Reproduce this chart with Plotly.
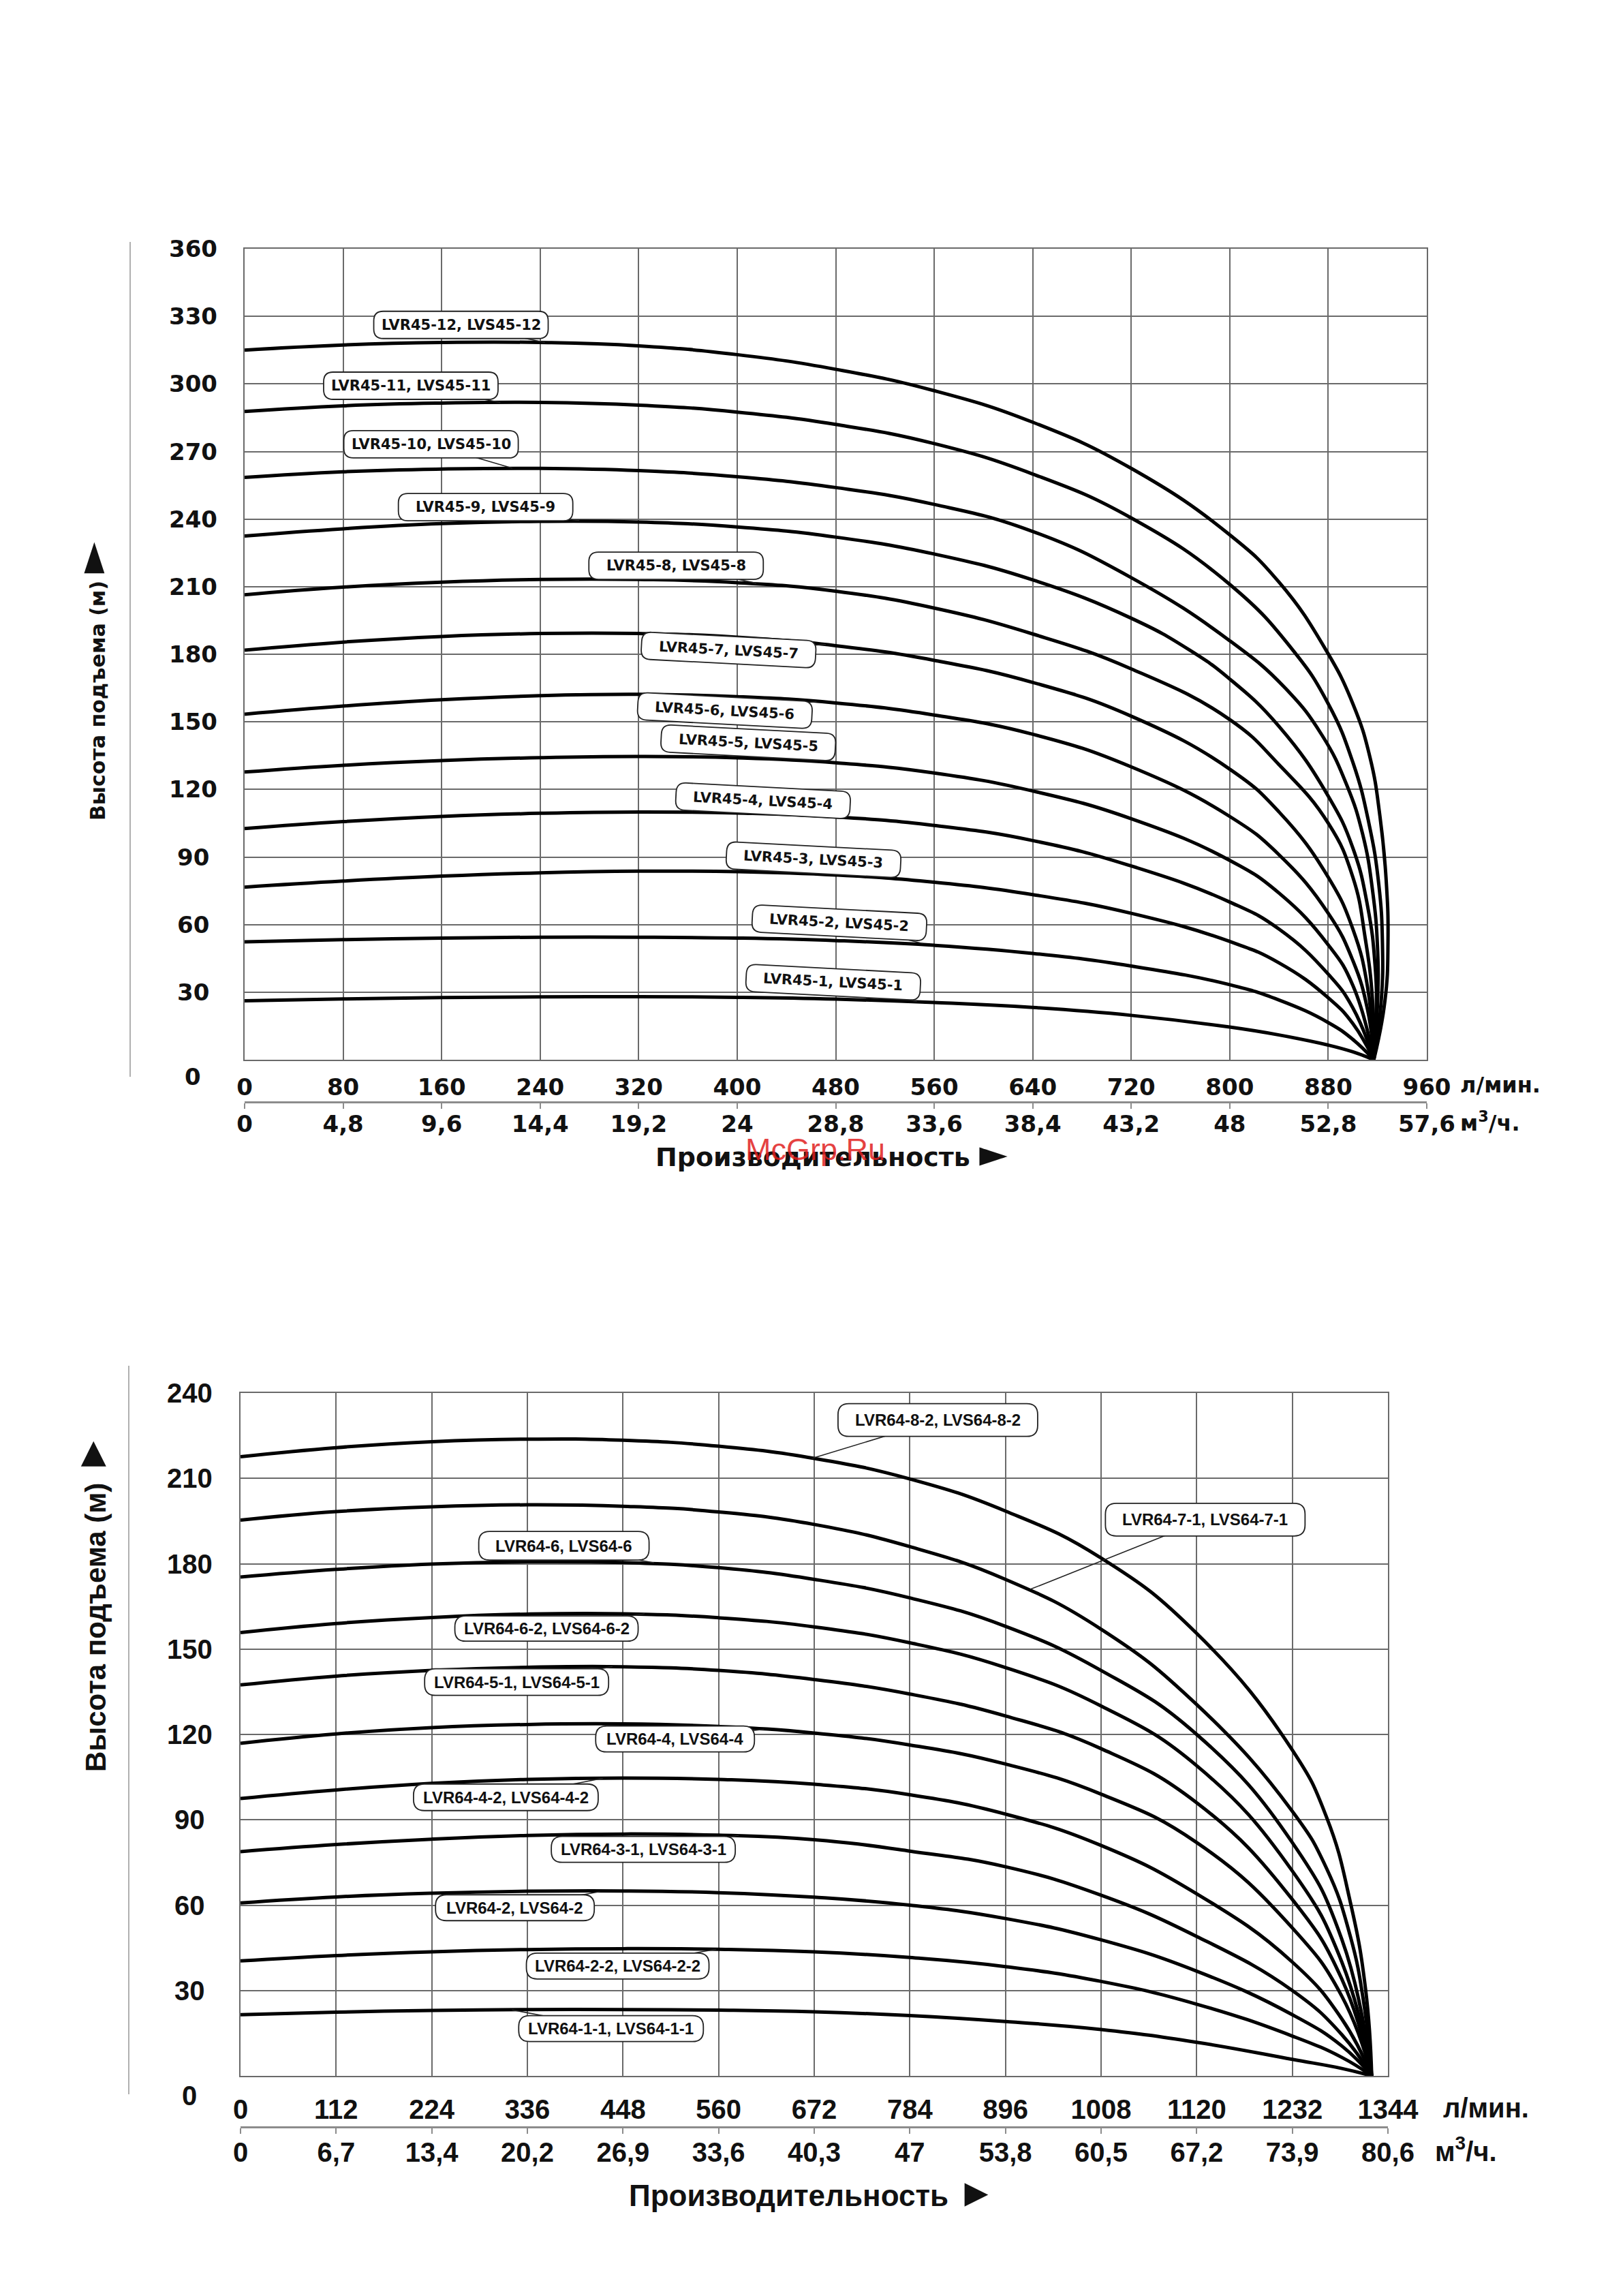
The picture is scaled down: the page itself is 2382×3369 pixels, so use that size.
import math
import plotly.graph_objects as go

# ---------------- page geometry (browser body margin = 8px) ----------------
W, H = 2366, 3353
OFF = 8


def fx(p):
    return (p - OFF) / W


def fy(p):
    return 1 - (p - OFF) / H


# ---------------- data: top chart (LVR45 / LVS45) ----------------
TOP_Q_TICKS = [0, 80, 160, 240, 320, 400, 480, 560, 640, 720, 800, 880, 960]
TOP_M3H_LABELS = ["0", "4,8", "9,6", "14,4", "19,2", "24", "28,8", "33,6", "38,4", "43,2", "48", "52,8", "57,6"]
TOP_H_TICKS = [0, 30, 60, 90, 120, 150, 180, 210, 240, 270, 300, 330, 360]

q45_1 = [0, 80, 160, 240, 320, 400, 480, 560, 640, 720, 800, 840, 880, 900, 917]
h45_1 = [26.2, 27.0, 27.6, 27.9, 28.0, 27.7, 26.9, 25.4, 23.2, 19.7, 14.5, 11.0, 6.5, 3.5, 0]
q45_2 = [0, 80, 160, 240, 320, 400, 480, 560, 640, 720, 800, 840, 880, 900, 917]
h45_2 = [52.3, 53.3, 54.0, 54.4, 54.4, 54.0, 52.9, 50.8, 47.2, 41.6, 33.3, 26.5, 16.5, 9.0, 0]
q45_3 = [0, 80, 160, 240, 320, 400, 480, 560, 640, 720, 800, 840, 880, 900, 917]
h45_3 = [76.6, 79.3, 81.5, 83.0, 83.7, 83.5, 82.0, 78.8, 73.3, 65.0, 52.5, 43.0, 27.5, 16.0, 0]
q45_4 = [0, 80, 160, 240, 320, 400, 480, 560, 640, 720, 800, 840, 880, 900, 917]
h45_4 = [102.6, 105.7, 108.0, 109.4, 110.0, 109.5, 107.8, 104.0, 97.3, 86.0, 70.0, 58.0, 38.0, 23.0, 0]
q45_5 = [0, 80, 160, 240, 320, 400, 480, 560, 640, 720, 800, 840, 880, 900, 917]
h45_5 = [127.7, 130.7, 132.8, 134.1, 134.6, 134.0, 131.8, 127.3, 119.3, 107.0, 88.5, 74.0, 51.0, 33.0, 0]
q45_6 = [0, 80, 160, 240, 320, 400, 480, 560, 640, 720, 800, 840, 880, 900, 912, 917]
h45_6 = [153.4, 157.0, 159.8, 161.6, 162.2, 161.2, 158.4, 153.0, 144.5, 130.0, 108.0, 91.0, 65.0, 44.0, 22.0, 0]
q45_7 = [0, 80, 160, 240, 320, 400, 480, 560, 640, 720, 800, 840, 880, 900, 912, 917]
h45_7 = [181.8, 185.4, 187.9, 189.2, 189.2, 187.6, 183.8, 177.3, 167.5, 152.5, 129.0, 110.0, 81.0, 58.0, 32.0, 0]
q45_8 = [0, 80, 160, 240, 320, 400, 480, 560, 640, 720, 800, 840, 880, 900, 910, 916, 917]
h45_8 = [206.4, 209.8, 212.0, 213.2, 213.2, 211.8, 208.0, 200.5, 189.0, 173.5, 151.0, 131.0, 105.0, 81.0, 54.0, 26.0, 0]
q45_9 = [0, 80, 160, 240, 320, 400, 480, 560, 640, 720, 767, 800, 840, 880, 900, 912, 918, 919, 917]
h45_9 = [232.5, 235.7, 238.0, 239.0, 238.7, 236.5, 232.0, 224.5, 213.0, 196.0, 182.0, 169.0, 148.0, 117.0, 94.0, 68.0, 42.0, 20.0, 0]
q45_10 = [0, 80, 160, 240, 320, 400, 480, 560, 640, 720, 800, 845, 875, 895, 908, 916, 920, 920, 917]
h45_10 = [258.5, 261.0, 262.2, 262.5, 261.5, 258.8, 254.0, 246.5, 234.5, 214.0, 186.0, 165.0, 144.0, 122.0, 100.0, 75.0, 50.0, 25.0, 0]
q45_11 = [0, 80, 160, 240, 320, 400, 480, 560, 640, 720, 800, 851, 880, 900, 913, 921, 924, 923, 917]
h45_11 = [287.8, 290.3, 291.5, 291.8, 290.6, 287.5, 282.0, 273.5, 260.0, 240.5, 211.0, 182.0, 158.0, 132.0, 105.0, 78.0, 52.0, 26.0, 0]
q45_12 = [0, 80, 160, 240, 320, 400, 480, 560, 640, 720, 800, 840, 878, 900, 914, 922, 927, 928.5, 926, 917]
h45_12 = [315.0, 317.3, 318.4, 318.4, 316.9, 313.0, 306.5, 297.0, 283.0, 262.5, 233.0, 212.0, 182.0, 158.0, 134.0, 108.0, 80.0, 52.0, 26.0, 0]

TOP_CURVES = [
    (q45_1, h45_1), (q45_2, h45_2), (q45_3, h45_3), (q45_4, h45_4),
    (q45_5, h45_5), (q45_6, h45_6), (q45_7, h45_7), (q45_8, h45_8),
    (q45_9, h45_9), (q45_10, h45_10), (q45_11, h45_11), (q45_12, h45_12),
]
TOP_NAMES = ["LVR45-%d, LVS45-%d" % (i, i) for i in range(1, 13)]

# ---------------- data: bottom chart (LVR64 / LVS64) ----------------
BOT_Q_TICKS = [0, 112, 224, 336, 448, 560, 672, 784, 896, 1008, 1120, 1232, 1344]
BOT_M3H_LABELS = ["0", "6,7", "13,4", "20,2", "26,9", "33,6", "40,3", "47", "53,8", "60,5", "67,2", "73,9", "80,6"]
BOT_H_TICKS = [0, 30, 60, 90, 120, 150, 180, 210, 240]

q64_1_1 = [0, 112, 224, 336, 448, 560, 672, 784, 896, 1008, 1120, 1232, 1290, 1325]
h64_1_1 = [21.5, 22.4, 23.0, 23.3, 23.3, 23.1, 22.5, 21.2, 19.1, 16.3, 11.8, 5.8, 2.6, 0]
q64_2_2 = [0, 112, 224, 336, 448, 560, 672, 784, 896, 1008, 1120, 1232, 1290, 1325]
h64_2_2 = [40.4, 42.3, 43.6, 44.4, 44.7, 44.5, 43.6, 41.6, 38.4, 33.2, 25.2, 14.0, 6.5, 0]
q64_2 = [0, 112, 224, 336, 448, 560, 672, 784, 896, 1008, 1120, 1232, 1290, 1325]
h64_2 = [60.8, 62.9, 64.2, 64.9, 65.0, 64.4, 62.8, 60.0, 55.3, 47.8, 36.8, 21.5, 10.5, 0]
q64_3_1 = [0, 112, 224, 336, 448, 560, 672, 784, 896, 1008, 1120, 1232, 1290, 1325]
h64_3_1 = [78.8, 81.3, 83.2, 84.5, 85.0, 84.6, 83.0, 79.0, 73.5, 63.5, 49.0, 30.0, 14.5, 0]
q64_4_2 = [0, 112, 224, 336, 448, 560, 672, 784, 896, 1008, 1120, 1232, 1290, 1325]
h64_4_2 = [97.5, 100.5, 102.8, 104.2, 104.7, 104.2, 102.5, 98.8, 92.0, 81.0, 64.0, 40.0, 20.0, 0]
q64_4 = [0, 112, 224, 336, 448, 560, 672, 784, 896, 1008, 1120, 1232, 1290, 1325]
h64_4 = [116.9, 120.2, 122.4, 123.5, 123.7, 122.8, 120.5, 116.3, 109.6, 99.0, 82.0, 52.0, 28.0, 0]
q64_5_1 = [0, 112, 224, 336, 448, 560, 672, 784, 896, 1008, 1120, 1232, 1290, 1325]
h64_5_1 = [137.4, 140.5, 142.5, 143.6, 143.8, 142.5, 139.3, 134.2, 126.5, 115.0, 96.0, 62.0, 34.0, 0]
q64_6_2 = [0, 112, 224, 336, 448, 560, 672, 784, 896, 1008, 1120, 1232, 1290, 1325]
h64_6_2 = [155.8, 159.0, 161.1, 162.3, 162.4, 161.0, 157.8, 152.2, 143.5, 130.0, 109.0, 72.0, 40.0, 0]
q64_6 = [0, 112, 224, 336, 448, 560, 672, 784, 896, 1008, 1120, 1232, 1290, 1325]
h64_6 = [175.3, 178.0, 179.9, 180.7, 180.4, 178.6, 174.5, 168.0, 158.0, 142.5, 120.0, 82.0, 48.0, 0]
q64_7_1 = [0, 112, 224, 336, 448, 560, 672, 784, 896, 1008, 1120, 1232, 1272, 1300, 1316, 1325]
h64_7_1 = [195.3, 198.3, 200.0, 200.7, 200.2, 198.2, 193.8, 186.0, 174.5, 157.0, 130.5, 93.0, 73.0, 49.0, 25.0, 0]
q64_8_2 = [0, 112, 224, 336, 448, 560, 672, 784, 896, 1008, 1120, 1232, 1272, 1300, 1318, 1325]
h64_8_2 = [217.6, 220.8, 222.9, 223.8, 223.4, 221.3, 217.0, 209.8, 198.5, 182.0, 155.5, 114.5, 91.0, 61.0, 30.0, 0]

BOT_CURVES = [
    (q64_1_1, h64_1_1), (q64_2_2, h64_2_2), (q64_2, h64_2), (q64_3_1, h64_3_1),
    (q64_4_2, h64_4_2), (q64_4, h64_4), (q64_5_1, h64_5_1), (q64_6_2, h64_6_2),
    (q64_6, h64_6), (q64_7_1, h64_7_1), (q64_8_2, h64_8_2),
]
BOT_NAMES = ["LVR64-1-1, LVS64-1-1", "LVR64-2-2, LVS64-2-2", "LVR64-2, LVS64-2",
             "LVR64-3-1, LVS64-3-1", "LVR64-4-2, LVS64-4-2", "LVR64-4, LVS64-4",
             "LVR64-5-1, LVS64-5-1", "LVR64-6-2, LVS64-6-2", "LVR64-6, LVS64-6",
             "LVR64-7-1, LVS64-7-1", "LVR64-8-2, LVS64-8-2"]

# ---------------- label placement: box centre, leader end, tilt, frame size (px) ----------------
TOP_LABEL_POS = [
    (478, 34.4, 546, 25.8, 3), (483, 60.8, 550.7, 51.6, 3), (462, 88.8, 528.5, 81.0, 3),
    (421, 115.0, 490, 108.0, 3), (409, 140.7, 472, 132.8, 3), (390, 155.0, 464.5, 159.0, 3),
    (393, 181.9, 472, 184.3, 3), (350.4, 219.3, 415.5, 211.5, 0), (195.7, 245.3, 271.8, 239.3, 0),
    (151.4, 273.2, 217.4, 262.6, 0), (135.0, 299.2, 207.7, 291.8, 0), (175.7, 326.2, 243.9, 318.4, 0),
]
TOP_BOX = (256, 40)
BOT_LABEL_POS = [
    (434, 16.6, 318, 23.2), (441.8, 38.6, 557.2, 44.5), (321.4, 59.1, 421.1, 64.8),
    (471.8, 79.6, 583.5, 84.5), (310.8, 97.9, 424.5, 104.6), (509, 118.4, 613.2, 121.8),
    (323.4, 138.4, 435.7, 143.8), (358.4, 157.2, 473.2, 162.4), (378.8, 186.3, 484.4, 180.3),
    (1130, 195.5, 925, 171.0), (816.8, 230.5, 669.2, 217.0),
]
BOT_BOX = [(271, 38), (268, 38), (233, 38), (270, 38), (271, 39), (233, 38),
           (270, 39), (269, 37), (250, 42), (293, 48), (293, 48)]

TOPF = "DejaVu Sans"
BOTF = "Liberation Sans, Arial, sans-serif"
GRID = "#6a6a6a"


def rounded_path(w, h, r, ang):
    a = math.radians(ang)
    ca, sa = math.cos(a), math.sin(a)

    def p(x, y):
        return "%.2f,%.2f" % (x * ca + y * sa, -x * sa + y * ca)

    hw, hh = w / 2.0, h / 2.0
    return ("M" + p(-hw + r, hh) + " L" + p(hw - r, hh) + " Q" + p(hw, hh) + " " + p(hw, hh - r) +
            " L" + p(hw, -hh + r) + " Q" + p(hw, -hh) + " " + p(hw - r, -hh) +
            " L" + p(-hw + r, -hh) + " Q" + p(-hw, -hh) + " " + p(-hw, -hh + r) +
            " L" + p(-hw, hh - r) + " Q" + p(-hw, hh) + " " + p(-hw + r, hh) + " Z")


fig = go.Figure()

for q, h in TOP_CURVES:
    fig.add_trace(go.Scatter(x=q, y=h, mode="lines", xaxis="x", yaxis="y",
                             line=dict(color="black", width=5, shape="spline", smoothing=1.3),
                             showlegend=False, hoverinfo="skip"))
for q, h in BOT_CURVES:
    fig.add_trace(go.Scatter(x=q, y=h, mode="lines", xaxis="x3", yaxis="y3",
                             line=dict(color="black", width=5, shape="spline", smoothing=1.3),
                             showlegend=False, hoverinfo="skip"))
# carriers for the secondary (m3/h) axes
fig.add_trace(go.Scatter(x=[0, 960], y=[None, None], xaxis="x2", yaxis="y", showlegend=False, hoverinfo="skip"))
fig.add_trace(go.Scatter(x=[0, 1344], y=[None, None], xaxis="x4", yaxis="y3", showlegend=False, hoverinfo="skip"))

TOP_L, TOP_R, TOP_T, TOP_B = 359, 2094, 365, 1555
BOT_L, BOT_R, BOT_T, BOT_B = 353, 2037, 2044, 3046

axis_common = dict(showgrid=True, gridcolor=GRID, gridwidth=1.6, showline=True, mirror=True,
                   linecolor=GRID, linewidth=1.6, zeroline=False, ticks="", automargin=False)

fig.update_layout(
    width=W, height=H, margin=dict(l=0, r=0, t=0, b=0, autoexpand=False),
    paper_bgcolor="white", plot_bgcolor="white", showlegend=False,
    xaxis=dict(domain=[fx(TOP_L), fx(TOP_R)], range=[0, 960], anchor="y",
               tickvals=TOP_Q_TICKS, ticktext=[str(v) for v in TOP_Q_TICKS],
               tickfont=dict(family=TOPF, size=34, color="#111", weight="bold"),
               ticklabelstandoff=9, **axis_common),
    yaxis=dict(domain=[fy(TOP_B), fy(TOP_T)], range=[0, 360], anchor="x",
               tickvals=TOP_H_TICKS, showticklabels=False, **axis_common),
    xaxis2=dict(domain=[fx(TOP_L), fx(TOP_R)], range=[0, 960], overlaying="x", anchor="free",
                position=fy(1617), side="bottom", showgrid=False, zeroline=False, automargin=False,
                showline=True, linecolor="#8c8c8c", linewidth=2.5,
                ticks="outside", ticklen=8, tickcolor="#8c8c8c", tickwidth=2,
                tickvals=TOP_Q_TICKS, ticktext=TOP_M3H_LABELS,
                tickfont=dict(family=TOPF, size=34, color="#111", weight="bold"),
                ticklabelstandoff=-7),
    xaxis3=dict(domain=[fx(BOT_L), fx(BOT_R)], range=[0, 1344], anchor="y3",
                tickvals=BOT_Q_TICKS, ticktext=[str(v) for v in BOT_Q_TICKS],
                tickfont=dict(family=BOTF, size=40, color="#111", weight="bold"),
                ticklabelstandoff=13, **axis_common),
    yaxis3=dict(domain=[fy(BOT_B), fy(BOT_T)], range=[0, 240], anchor="x3",
                tickvals=BOT_H_TICKS, showticklabels=False, **axis_common),
    xaxis4=dict(domain=[fx(BOT_L), fx(BOT_R)], range=[0, 1344], overlaying="x3", anchor="free",
                position=fy(3121), side="bottom", showgrid=False, zeroline=False, automargin=False,
                showline=True, linecolor="#8c8c8c", linewidth=2.5,
                ticks="outside", ticklen=8, tickcolor="#8c8c8c", tickwidth=2,
                tickvals=BOT_Q_TICKS, ticktext=BOT_M3H_LABELS,
                tickfont=dict(family=BOTF, size=40, color="#111", weight="bold"),
                ticklabelstandoff=-7),
)

ann = []
leaders = []
frames = []
# y tick labels (centred, as in the original)
for v in TOP_H_TICKS:
    ann.append(dict(x=fx(283), xref="paper", y=v, yref="y", text=str(v), showarrow=False,
                    xanchor="center", yanchor="middle", yshift=-25 if v == 0 else 0,
                    font=dict(family=TOPF, size=34, color="#111", weight="bold")))
for v in BOT_H_TICKS:
    ann.append(dict(x=fx(278), xref="paper", y=v, yref="y3", text=str(v), showarrow=False,
                    xanchor="center", yanchor="middle", yshift=-29 if v == 0 else 0,
                    font=dict(family=BOTF, size=40, color="#111", weight="bold")))

# curve labels: leader line (under the frame), rounded frame, text
for name, (bx, by, lx, ly, ang) in zip(TOP_NAMES, TOP_LABEL_POS):
    leaders.append(dict(type="line", xref="x", yref="y", x0=bx, y0=by, x1=lx, y1=ly,
                        line=dict(color="#222", width=1.6), layer="above"))
    frames.append(dict(type="path", xref="x", yref="y", xsizemode="pixel", ysizemode="pixel",
                       xanchor=bx, yanchor=by, path=rounded_path(TOP_BOX[0], TOP_BOX[1], 14, ang),
                       fillcolor="white", line=dict(color="#222", width=1.8), layer="above"))
    ann.append(dict(x=bx, y=by, xref="x", yref="y", text=name, showarrow=False,
                    xanchor="center", yanchor="middle", textangle=ang,
                    font=dict(family=TOPF, size=21, color="#111", weight="bold")))
for name, (bx, by, lx, ly), (bw, bh) in zip(BOT_NAMES, BOT_LABEL_POS, BOT_BOX):
    leaders.append(dict(type="line", xref="x3", yref="y3", x0=bx, y0=by, x1=lx, y1=ly,
                        line=dict(color="#222", width=1.6), layer="above"))
    frames.append(dict(type="path", xref="x3", yref="y3", xsizemode="pixel", ysizemode="pixel",
                       xanchor=bx, yanchor=by, path=rounded_path(bw, bh, 16, 0),
                       fillcolor="white", line=dict(color="#222", width=1.8), layer="above"))
    ann.append(dict(x=bx, y=by, xref="x3", yref="y3", text=name, showarrow=False,
                    xanchor="center", yanchor="middle",
                    font=dict(family=BOTF, size=24, color="#111", weight="bold")))

# unit labels
ann += [
    dict(x=fx(2141), y=fy(1592), xref="paper", yref="paper", text="л/мин.", showarrow=False,
         xanchor="left", yanchor="middle", font=dict(family=TOPF, size=32, color="#111", weight="bold")),
    dict(x=fx(2141), y=fy(1646), xref="paper", yref="paper", text="м<sup>3</sup>/ч.", showarrow=False,
         xanchor="left", yanchor="middle", font=dict(family=TOPF, size=32, color="#111", weight="bold")),
    dict(x=fx(2116), y=fy(3093), xref="paper", yref="paper", text="л/мин.", showarrow=False,
         xanchor="left", yanchor="middle", font=dict(family=BOTF, size=40, color="#111", weight="bold")),
    dict(x=fx(2104), y=fy(3154), xref="paper", yref="paper", text="м<sup>3</sup>/ч.", showarrow=False,
         xanchor="left", yanchor="middle", font=dict(family=BOTF, size=40, color="#111", weight="bold")),
]

# axis titles
ann += [
    dict(x=fx(1220), y=fy(1692), xref="paper", yref="paper", showarrow=False,
         text="Производительность <span style='font-size:54px'>►</span>",
         xanchor="center", yanchor="middle", font=dict(family=TOPF, size=38, color="#111", weight="bold")),
    dict(x=fx(1192), y=fy(3216), xref="paper", yref="paper", showarrow=False,
         text="Производительность <span style='font-size:58px'>►</span>",
         xanchor="center", yanchor="middle", font=dict(family=BOTF, size=44, color="#111", weight="bold")),
    dict(x=fx(133), y=fy(1000), xref="paper", yref="paper", showarrow=False, textangle=-90,
         text="Высота подъема (м) <span style='font-size:60px'>►</span>",
         xanchor="center", yanchor="middle", font=dict(family=TOPF, size=30, color="#111", weight="bold")),
    dict(x=fx(133), y=fy(2352), xref="paper", yref="paper", showarrow=False, textangle=-90,
         text="Высота подъема (м) <span style='font-size:62px'>►</span>",
         xanchor="center", yanchor="middle", font=dict(family=BOTF, size=42, color="#111", weight="bold")),
    dict(x=fx(1196), y=fy(1686), xref="paper", yref="paper", showarrow=False, text="McGrp.Ru",
         xanchor="center", yanchor="middle", font=dict(family="Liberation Sans", size=45, color="rgba(225,30,30,0.85)")),
]

side_lines = [
    dict(type="line", xref="paper", yref="paper", x0=fx(191), x1=fx(191), y0=fy(355), y1=fy(1580),
         line=dict(color="#b0b0b0", width=2)),
    dict(type="line", xref="paper", yref="paper", x0=fx(189), x1=fx(189), y0=fy(2004), y1=fy(3073),
         line=dict(color="#b0b0b0", width=2)),
]

fig.update_layout(annotations=ann, shapes=side_lines + leaders + frames)

fig.write_html("out.html")
